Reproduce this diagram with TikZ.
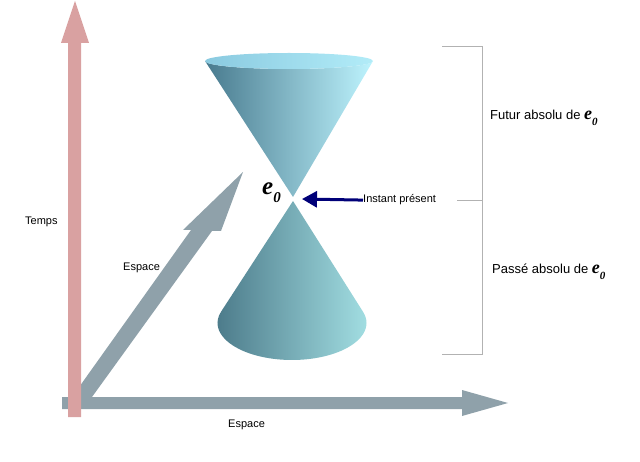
\documentclass[tikz,border=0pt]{standalone}
\usepackage{fontspec}
\setmainfont{Liberation Sans}
\newfontfamily\serif{Liberation Serif}
\usepackage{tikz}
\usetikzlibrary{arrows.meta}

\definecolor{timepink}{RGB}{217,161,161}
\definecolor{axisgrey}{RGB}{143,161,170}
\definecolor{nowblue}{RGB}{0,0,120}
\definecolor{updark}{RGB}{72,122,142}
\definecolor{upmid}{RGB}{108,168,192}
\definecolor{uplight}{RGB}{190,244,254}
\definecolor{liddark}{RGB}{138,202,224}
\definecolor{lidlight}{RGB}{178,236,248}
\definecolor{lowdark}{RGB}{72,118,134}
\definecolor{lowmid}{RGB}{112,178,204}
\definecolor{lowlight}{RGB}{162,222,226}

% e_0 in Times bold italic
\newcommand{\ezero}[2]{{\serif\bfseries\itshape\fontsize{#1}{#1}\selectfont e\raisebox{-0.3em}{\fontsize{#2}{#2}\selectfont 0}}}

\begin{document}
\begin{tikzpicture}[x=1pt,y=1pt,>={Triangle[length=15pt,width=16pt]}]
  \tikzstyle{every node}=[font=\fontsize{11}{13}\selectfont, inner sep=0pt, anchor=base west]
  \tikzstyle{big}=[font=\fontsize{13}{15}\selectfont]
  \tikzstyle{brack}=[draw=black!30, line width=0.8pt]
  \useasboundingbox (0,0) rectangle (640,461);

  % axes
  \fill[axisgrey] (62,52) -- (462,52) -- (462,45) -- (508,58) -- (462,71) -- (462,64) -- (62,64) -- cycle;
  \fill[axisgrey] (72,64) -- (92,64) -- (212,230) -- (221,230) -- (243,289) -- (183,231) -- (191,231) -- cycle;
  \fill[timepink] (68,44) -- (81,44) -- (81,418) -- (89,418) -- (75,460) -- (61,418) -- (68,418) -- cycle;

  % light cone
  \shade[left color=updark, middle color=upmid, right color=uplight]
    (205,400) -- (293,264) -- (373,400) arc[start angle=0, end angle=-180, x radius=84, y radius=8] -- cycle;
  \shade[left color=liddark, right color=lidlight] (289,400) ellipse[x radius=84, y radius=8];
  \shade[left color=lowdark, middle color=lowmid, right color=lowlight]
    (293,260) -- (221,149.2) arc[start angle=162.4, end angle=377.6, x radius=74.5, y radius=37] -- cycle;

  \coordinate (e0) at (293,262);
  \node (e0lab) at (262,266) {\ezero{25}{15}};
  \node (now) at (363,258) {Instant présent};
  \draw[->, nowblue, line width=3pt] (now.west) -- ([xshift=9pt]e0);

  \node (temps) at (25,236) {Temps};
  \node (esp1) at (123,190) {Espace};
  \node (esp2) at (228,34) {Espace};

  % futur / passe
  \draw[brack] (442,415) -- (482,415) -- (482,107) -- (442,107);
  \draw[brack] (457,261) -- (482,261);
  \node[big] (fut) at (490,341) {Futur absolu de \ezero{18}{11}};
  \node[big] (pas) at (492,187) {Passé absolu de \ezero{18}{11}};
\end{tikzpicture}
\end{document}
